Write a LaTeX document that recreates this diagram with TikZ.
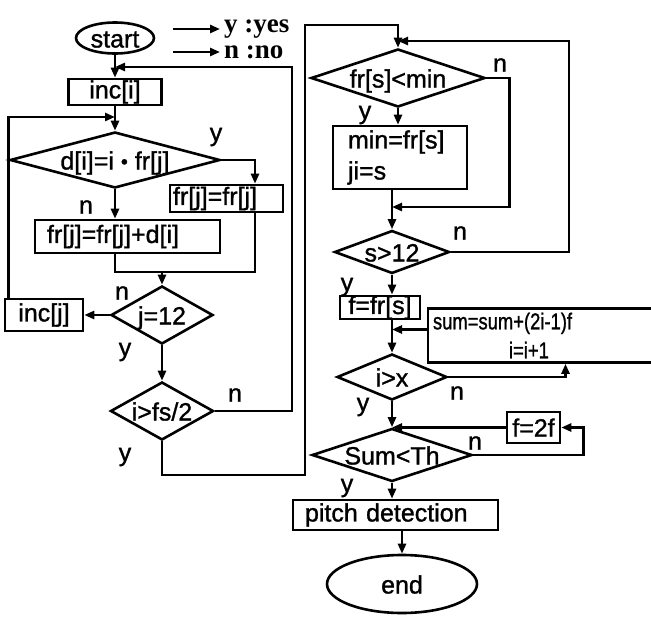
\documentclass[tikz,border=0pt]{standalone}
\usepackage{graphicx}
\usepackage{fontspec}
\setmainfont{Liberation Sans}[BoldFont={Liberation Sans},BoldFeatures={FakeBold=1.2}]
\newfontfamily\legendfont{Liberation Serif}
\usetikzlibrary{arrows.meta,positioning,shapes.geometric}

\tikzset{
  flowline/.style={line width=2.6pt},
  flowarrow/.style={flowline,-{Triangle[length=10pt,width=8pt]}},
  procbox/.style={draw,line width=2.6pt,rectangle,inner sep=0pt},
  decision/.style={draw,line width=2.6pt,diamond,inner sep=0pt,text height=19pt,text depth=0pt},
  terminal/.style={draw,line width=2.6pt,ellipse,inner sep=0pt,text height=19pt,text depth=0pt},
  yn/.style={inner sep=0pt},
  legend/.style={anchor=west,inner sep=0pt,font=\legendfont\bfseries\fontsize{27}{29}\selectfont}
}

\begin{document}
\begin{tikzpicture}[x=1pt,y=-1pt,font=\bfseries\fontsize{25}{28}\selectfont]
  \useasboundingbox (0,0) rectangle (651,624);
  % Legend
  \node[legend] (yes) at (224,29) {y :yes};
  \node[legend] (no) at (224,52) {n :no};
  \draw[flowarrow] ([xshift=-51pt]yes.west) -- ([xshift=-4pt]yes.west);
  \draw[flowarrow] ([xshift=-51pt]no.west) -- ([xshift=-4pt]no.west);

  % Left column
  \node[terminal,minimum width=78pt,minimum height=31pt] (start) at (115,38) {start};
  \node[procbox,minimum width=93pt,minimum height=26pt] (inci) at (115,92) {inc[i]};
  \node[decision,minimum width=210pt,minimum height=56pt,aspect=3.75] (dfr) at (115,160) {d[i]=i \raisebox{1pt}{\fontsize{20}{20}\selectfont •} fr[j]};
  \node[procbox,text width=107pt,inner xsep=3pt,align=left,minimum height=27pt] (frjeq) at (226.5,198.5) {fr[j]=fr[j]};
  \node[procbox,text width=161pt,inner xsep=12pt,align=left,minimum height=33pt] (frsum) at (127.5,236.5) {fr[j]=fr[j]+d[i]};
  \node[decision,minimum width=102pt,minimum height=58pt,aspect=1.76] (j12) at (162,315) {j=12};
  \node[procbox,minimum width=78pt,minimum height=32pt] (incj) at (44,315) {inc[j]};
  \node[decision,minimum width=103pt,minimum height=58pt,aspect=1.78] (ifs) at (162,411) {i>fs/2};

  % Right column
  \node[decision,minimum width=174pt,minimum height=58pt,aspect=3] (frmin) at (398,78) {fr[s]<min};
  \node[procbox,text width=104pt,inner xsep=15pt,align=left,minimum height=63pt,font=\bfseries\fontsize{25}{31}\selectfont] (minbox) at (400,157.5) {min=fr[s]\\ji=s};
  \node[decision,minimum width=115pt,minimum height=43pt,aspect=2.67] (s12) at (392,252) {s>12};
  \node[procbox,minimum width=80pt,minimum height=21pt] (ffr) at (380,307.5) {f=fr[s]};
  \node[procbox,text width=215pt,inner xsep=5pt,align=left,minimum height=54pt,font=\bfseries\fontsize{23}{29}\selectfont] (sumbox) at (540.5,335.5) {\scalebox{0.8}[1]{sum=sum+(2i-1)f}\\\hspace*{76pt}\scalebox{0.8}[1]{i=i+1}};
  \node[decision,minimum width=110pt,minimum height=46pt,aspect=2.4] (ix) at (392,377) {i>x};
  \node[procbox,minimum width=53pt,minimum height=31pt] (f2f) at (533.5,427.5) {f=2f};
  \node[decision,minimum width=160pt,minimum height=53pt,aspect=3] (sumth) at (392,455) {Sum<Th};
  \node[procbox,text width=181pt,inner xsep=12pt,align=left,minimum height=30pt] (pitch) at (395.5,515) {pitch detection};
  \node[terminal,minimum width=150pt,minimum height=58pt] (stop) at (402,584) {end};

  % y / n labels
  \foreach \nm/\px/\py/\txt in {la/216/137/y, lb/86/207/n, lc/122/293/n, ld/125/352/y, le/235/395/n, lf/125/457/y,
      lg/500/65/n, lh/365/115/y, li/460/233/n, lj/347/287/y, lk/457/393/n, ll/363/407/y, lm/475/443/n, ln/347/488/y}
    \node[yn] (\nm) at (\px,\py) {\txt};

  % Junctions
  \coordinate (jA) at (115,67);
  \coordinate (jB) at (115,117);
  \coordinate (jC) at (162,272);
  \coordinate (lowR) at (305,475);
  \coordinate (topR) at (305,25);
  \coordinate (jD) at (398,41);
  \coordinate (jE) at (392,207);

  % Left connectors
  \draw[flowarrow] (start.south) -- (inci.north);
  \draw[flowarrow] (ifs.east) -- ++(77,0) |- (jA);
  \draw[flowarrow] (inci.south) -- (dfr.north);
  \draw[flowarrow] ([xshift=5pt]incj.north west) |- (jB);
  \draw[flowarrow] (dfr.east) -| ([xshift=28.5pt]frjeq.north);
  \draw[flowarrow] (dfr.south) -- (frsum.north -| dfr.south);
  \draw[flowline] (frsum.south -| dfr.south) |- (jC);
  \draw[flowline] ([xshift=28.5pt]frjeq.south) |- (jC);
  \draw[flowarrow] (jC) -- (j12.north);
  \draw[flowarrow] (j12.west) -- (incj.east);
  \draw[flowarrow] (j12.south) -- (ifs.north);
  \draw[flowarrow] (ifs.south) |- (lowR) -- (topR) -| (frmin.north);

  % Right connectors
  \draw[flowarrow] (s12.east) -- ++(118,0) |- (jD);
  \draw[flowarrow] (frmin.south) -- (frmin.south |- minbox.north);
  \draw[flowarrow] (frmin.east) -- ++(23,0) |- (jE);
  \draw[flowarrow] (s12.north |- minbox.south) -- (s12.north);
  \draw[flowarrow] (s12.south) -- (s12.south |- ffr.north);
  \draw[flowarrow] (ffr.south -| ix.north) -- (ix.north);
  \draw[flowarrow] ([yshift=6pt]sumbox.west) -- ([yshift=6pt]sumbox.west -| ix.north);
  \draw[flowarrow] (ix.east) -| ([xshift=25pt]sumbox.south);
  \draw[flowarrow] (ix.south) -- (sumth.north);
  \draw[flowarrow] (f2f.west) -- (f2f.west -| sumth.north);
  \draw[flowarrow] (sumth.east) -- ++(110,0) |- (f2f.east);
  \draw[flowarrow] (sumth.south) -- (sumth.south |- pitch.north);
  \draw[flowarrow] (stop.north |- pitch.south) -- (stop.north);
\end{tikzpicture}
\end{document}
